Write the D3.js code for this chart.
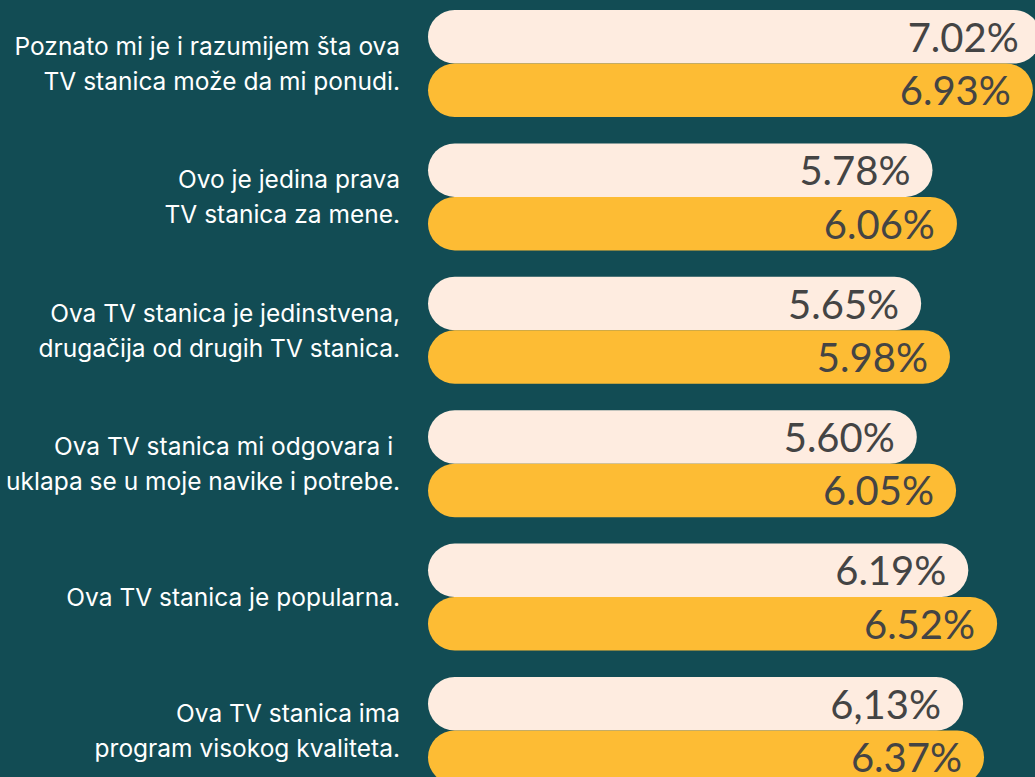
<!DOCTYPE html>
<html>
<head>
<meta charset="utf-8">
<script src="https://cdn.jsdelivr.net/npm/d3@7"></script>
<style>
  html, body { margin: 0; padding: 0; background: #124c54; }
  svg { display: block; }
</style>
</head>
<body>
<div id="chart"></div>
<script>
// Category labels (line broken as in the original)
const categories = [
    ["Poznato mi je i razumijem šta ova", "TV stanica može da mi ponudi."],
    ["Ovo je jedina prava", "TV stanica za mene."],
    ["Ova TV stanica je jedinstvena,", "drugačija od drugih TV stanica."],
    ["Ova TV stanica mi odgovara i ", "uklapa se u moje navike i potrebe."],
    ["Ova TV stanica je popularna."],
    ["Ova TV stanica ima", "program visokog kvaliteta."]
];

const seriesKeys = ["first", "second"];

// Values for the two series
const firstValues = [7.02, 5.78, 5.65, 5.60, 6.19, 6.13];
const secondValues = [6.93, 6.06, 5.98, 6.05, 6.52, 6.37];

// Value labels as printed
const firstLabels = ["7.02%", "5.78%", "5.65%", "5.60%", "6.19%", "6,13%"];
const secondLabels = ["6.93%", "6.06%", "5.98%", "6.05%", "6.52%", "6.37%"];

const colors = {first: "#feece0", second: "#fdbc34"};

const width = 1035, height = 777;

const svg = d3.select("#chart")
    .append("svg")
    .attr("width", width)
    .attr("height", height);

svg.append("rect")
    .attr("width", width)
    .attr("height", height)
    .attr("fill", "#124c54");

const rows = categories.map((c, i) => ({
    id: i,
    lines: c,
    bars: [
        {key: "first", value: firstValues[i], label: firstLabels[i]},
        {key: "second", value: secondValues[i], label: secondLabels[i]}
    ]
}));

// Scales
const xScale = d3.scaleLinear()
    .domain([0, 7])
    .range([428, 1039]);

const yScale = d3.scaleBand()
    .domain(rows.map(d => d.id))
    .range([10, 784])
    .paddingInner(0.198)
    .paddingOuter(0);

const ySub = d3.scaleBand()
    .domain(seriesKeys)
    .range([0, yScale.bandwidth()])
    .padding(0);

const rowG = svg.selectAll(".row")
    .data(rows)
    .join("g")
    .attr("class", "row")
    .attr("transform", d => `translate(0, ${yScale(d.id)})`);

// Pill shaped bars
rowG.selectAll(".bar")
    .data(d => d.bars)
    .join("rect")
    .attr("class", "bar")
    .attr("x", xScale(0))
    .attr("y", d => ySub(d.key))
    .attr("width", d => xScale(d.value) - xScale(0))
    .attr("height", ySub.bandwidth())
    .attr("rx", ySub.bandwidth() / 2)
    .attr("fill", d => colors[d.key]);

// Value labels inside the bars
rowG.selectAll(".value")
    .data(d => d.bars)
    .join("text")
    .attr("class", "value")
    .attr("x", d => xScale(d.value) - 22)
    .attr("y", d => ySub(d.key) + ySub.bandwidth() / 2 + 15)
    .attr("text-anchor", "end")
    .attr("font-family", "Lato, sans-serif")
    .attr("font-weight", 400)
    .attr("font-size", "40px")
    .attr("fill", "#444444")
    .text(d => d.label);

// Category labels on the left
const lineH = 35;
rowG.append("text")
    .attr("class", "cat")
    .attr("text-anchor", "end")
    .attr("font-family", "Inter, sans-serif")
    .attr("font-size", "24.5px")
    .attr("fill", "#ffffff")
    .style("white-space", "pre")
    .selectAll("tspan")
    .data(d => d.lines.map((t, j) => ({t, j, n: d.lines.length})))
    .join("tspan")
    .attr("x", 400)
    .attr("y", d => yScale.bandwidth() / 2 + 9 + (d.j - (d.n - 1) / 2) * lineH)
    .text(d => d.t);
</script>
</body>
</html>
